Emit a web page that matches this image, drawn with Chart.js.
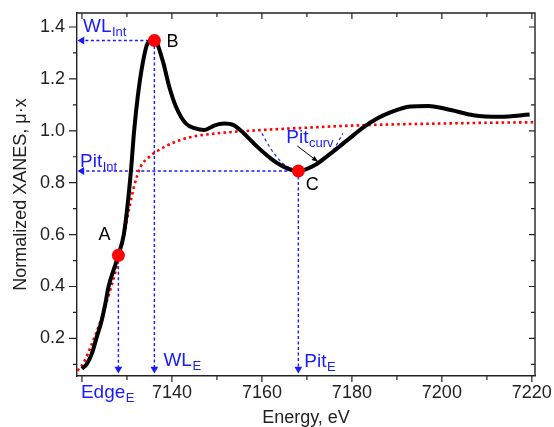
<!DOCTYPE html>
<html>
<head>
<meta charset="utf-8">
<script src="https://cdn.jsdelivr.net/npm/chart.js@4"></script>
<style>
html,body{margin:0;padding:0;background:#fff;}
#wrap{width:554px;height:427px;position:relative;}
</style>
</head>
<body>
<div id="wrap"><canvas id="c"></canvas></div>
<script>
// ---- data ----
const energy = [7120, 7121.1, 7122.2, 7123.3, 7124.4, 7125.2, 7125.9, 7127.0, 7128.1, 7129.3, 7130.1, 7130.9, 7131.6, 7132.4, 7133.5, 7134.6, 7136.1, 7137.9, 7139.4, 7140.9, 7143.1, 7145.2, 7147.2, 7149.4, 7151.6, 7153.7, 7156, 7159, 7162, 7164.9, 7168.1, 7171.6, 7175.3, 7179, 7182.7, 7185.7, 7188, 7193, 7197, 7202, 7207, 7213, 7219.5];
const xanes  = [0.083, 0.102, 0.141, 0.206, 0.27, 0.334, 0.398, 0.462, 0.52, 0.6, 0.707, 0.848, 1.0, 1.131, 1.26, 1.337, 1.35, 1.273, 1.17, 1.093, 1.028, 1.009, 1.003, 1.02, 1.028, 1.022, 0.99, 0.938, 0.893, 0.861, 0.845, 0.866, 0.913, 0.964, 1.015, 1.048, 1.067, 1.094, 1.096, 1.08, 1.06, 1.054, 1.063];

const stepEnergy = [7119, 7120.5, 7122, 7124, 7126, 7127.5, 7128.3, 7129.5, 7130.5, 7131.5, 7133, 7135, 7137, 7140, 7144, 7150, 7160, 7170, 7180, 7190, 7200, 7210, 7221];
const stepValues = [0.075, 0.11, 0.17, 0.26, 0.37, 0.46, 0.52, 0.61, 0.7, 0.78, 0.86, 0.9, 0.925, 0.952, 0.975, 0.99, 1.003, 1.012, 1.02, 1.025, 1.028, 1.031, 1.033];

const pitCurvEnergy = [7160, 7162, 7164, 7166, 7168.1, 7170, 7172, 7174, 7176, 7178];
const pitCurvValues = [0.99, 0.93, 0.885, 0.858, 0.845, 0.85, 0.865, 0.89, 0.93, 0.99];

const pointNames  = ['A', 'B', 'C'];
const pointEnergy = [7128.1, 7136.1, 7168.1];
const pointValues = [0.52, 1.348, 0.845];

const xTicks = [7120, 7140, 7160, 7180, 7200, 7220];
const xMinorTicks = [7130, 7150, 7170, 7190, 7210];
const yTicks = [0.2, 0.4, 0.6, 0.8, 1.0, 1.2, 1.4];
const yMinorTicks = [0.1, 0.3, 0.5, 0.7, 0.9, 1.1, 1.3];

const X_MIN = 7118.9, X_MAX = 7220.7, Y_MIN = 0.055, Y_MAX = 1.454;
const ARROW_END_X = 7120.0;
const ARROW_END_Y = 0.082;

// ---- build datasets ----
const pts = (xs, ys) => xs.map((x, i) => ({x, y: ys[i]}));
const BLUE = '#1a1aff';
const guide = (data, rot) => ({
  data, showLine: true, borderColor: BLUE, backgroundColor: BLUE,
  borderWidth: 1.4, borderDash: [3, 2.5], tension: 0,
  pointRadius: [0, 4.5], pointStyle: 'triangle', pointRotation: [0, rot],
  pointBorderWidth: 0, order: 3
});

const datasets = [
  {label: 'markers', data: pts(pointEnergy, pointValues), showLine: false,
   pointRadius: 6.5, backgroundColor: '#ff0000', borderColor: '#ff0000', pointBorderWidth: 0, order: 0},
  {label: 'xanes', data: pts(energy, xanes), showLine: true, borderColor: '#000', borderWidth: 4,
   cubicInterpolationMode: 'monotone', pointRadius: 0, order: 1},
  {label: 'step', data: pts(stepEnergy, stepValues), showLine: true, borderColor: '#ff0000', borderWidth: 2.6,
   borderDash: [2.6, 3.2], cubicInterpolationMode: 'monotone', pointRadius: 0, order: 2},
  {label: 'pitcurv', data: pts(pitCurvEnergy, pitCurvValues), showLine: true, borderColor: BLUE, borderWidth: 1.2,
   borderDash: [3, 3], cubicInterpolationMode: 'monotone', pointRadius: 0, order: 3},
  guide([{x: pointEnergy[1], y: pointValues[1]}, {x: ARROW_END_X, y: pointValues[1]}], 270),
  guide([{x: pointEnergy[2], y: pointValues[2]}, {x: ARROW_END_X, y: pointValues[2]}], 270),
  guide([{x: pointEnergy[0], y: pointValues[0]}, {x: pointEnergy[0], y: ARROW_END_Y}], 180),
  guide([{x: pointEnergy[1], y: pointValues[1]}, {x: pointEnergy[1], y: ARROW_END_Y}], 180),
  guide([{x: pointEnergy[2], y: pointValues[2]}, {x: pointEnergy[2], y: ARROW_END_Y}], 180),
];

const FONT = '"Liberation Sans", Arial, sans-serif';

function subText(ctx, main, sub, x, y, size, color) {
  ctx.save();
  ctx.fillStyle = color;
  ctx.textAlign = 'left';
  ctx.textBaseline = 'alphabetic';
  ctx.font = size + 'px ' + FONT;
  ctx.fillText(main, x, y);
  const w = ctx.measureText(main).width;
  ctx.font = Math.round(size * 0.66) + 'px ' + FONT;
  ctx.fillText(sub, x + w + 0.5, y + 4);
  ctx.restore();
}

const decor = {
  id: 'decor',
  afterDatasetsDraw(chart) {
    const {ctx, chartArea: a, scales: {x, y}} = chart;
    ctx.save();
    ctx.strokeStyle = '#222';
    ctx.lineWidth = 1.4;
    ctx.beginPath();
    ctx.moveTo(a.left, a.top); ctx.lineTo(a.right, a.top); ctx.lineTo(a.right, a.bottom);
    ctx.stroke();
    ctx.lineWidth = 1.2;
    ctx.beginPath();
    const xt = (v, len) => { const p = x.getPixelForValue(v);
      ctx.moveTo(p, a.bottom); ctx.lineTo(p, a.bottom + len);
      ctx.moveTo(p, a.top); ctx.lineTo(p, a.top + len); };
    const yt = (v, lenOut, lenIn) => { const p = y.getPixelForValue(v);
      ctx.moveTo(a.left, p); ctx.lineTo(a.left - lenOut, p);
      ctx.moveTo(a.right, p); ctx.lineTo(a.right - lenIn, p); };
    xTicks.forEach(v => xt(v, 6));
    xMinorTicks.forEach(v => xt(v, 4));
    yTicks.forEach(v => yt(v, 8, 6));
    yMinorTicks.forEach(v => yt(v, 4, 4));
    ctx.stroke();

    ctx.fillStyle = '#000';
    ctx.font = '18px ' + FONT;
    ctx.textAlign = 'center';
    ctx.textBaseline = 'alphabetic';
    const px = i => x.getPixelForValue(pointEnergy[i]);
    const py = i => y.getPixelForValue(pointValues[i]);
    ctx.fillText(pointNames[0], px(0) - 14, py(0) - 15);
    ctx.fillText(pointNames[1], px(1) + 18, py(1) + 6);
    ctx.fillText(pointNames[2], px(2) + 14, py(2) + 19);

    subText(ctx, 'WL', 'Int', a.left + 6, 32, 19, BLUE);
    subText(ctx, 'Pit', 'Int', a.left + 3, 167, 19, BLUE);
    subText(ctx, 'WL', 'E', px(1) + 9, 366, 19, BLUE);
    subText(ctx, 'Pit', 'E', px(2) + 6, 367, 19, BLUE);
    subText(ctx, 'Edge', 'E', x.getPixelForValue(7120) - 1, 398, 19, BLUE);
    subText(ctx, 'Pit', 'curv', px(2) - 12, 143, 19, BLUE);

    const x0 = px(2) - 1, y0 = 146, x1 = px(2) + 20, y1 = 162;
    ctx.strokeStyle = '#000';
    ctx.lineWidth = 1;
    ctx.beginPath(); ctx.moveTo(x0, y0); ctx.lineTo(x1, y1); ctx.stroke();
    const ang = Math.atan2(y1 - y0, x1 - x0);
    ctx.fillStyle = '#000';
    ctx.beginPath();
    ctx.moveTo(x1, y1);
    ctx.lineTo(x1 - 7 * Math.cos(ang - 0.35), y1 - 7 * Math.sin(ang - 0.35));
    ctx.lineTo(x1 - 7 * Math.cos(ang + 0.35), y1 - 7 * Math.sin(ang + 0.35));
    ctx.closePath(); ctx.fill();
    ctx.restore();
  }
};

const zeroPad = s => { s.paddingLeft = 0; s.paddingRight = 0; s.paddingTop = 0; s.paddingBottom = 0; };

new Chart(document.getElementById('c'), {
  type: 'scatter',
  data: {datasets},
  options: {
    responsive: true, maintainAspectRatio: false, animation: false,
    layout: {padding: {left: 0, right: 19, top: 13, bottom: 0}},
    plugins: {legend: {display: false}, tooltip: {enabled: false}},
    scales: {
      x: {
        type: 'linear', min: X_MIN, max: X_MAX,
        afterFit: s => { s.height = 51; zeroPad(s); },
        afterBuildTicks: s => { s.ticks = xTicks.map(v => ({value: v})); },
        grid: {display: false, drawTicks: false},
        border: {display: true, color: '#222', width: 1.4},
        ticks: {padding: 6, color: '#222', font: {family: FONT, size: 18},
                callback: v => (v === 7120 ? '' : String(v)), maxRotation: 0, autoSkip: false},
        title: {display: true, text: 'Energy, eV', color: '#222', font: {family: FONT, size: 18, lineHeight: 1.0},
                padding: {top: 0, bottom: 0}}
      },
      y: {
        type: 'linear', min: Y_MIN, max: Y_MAX,
        afterFit: s => { s.width = 77; zeroPad(s); },
        afterBuildTicks: s => { s.ticks = yTicks.map(v => ({value: v})); },
        grid: {display: false, drawTicks: false},
        border: {display: true, color: '#222', width: 1.4},
        ticks: {padding: 12, color: '#222', font: {family: FONT, size: 18},
                callback: v => v.toFixed(1), autoSkip: false},
        title: {display: true, text: 'Normalized XANES, μ·x', color: '#222', font: {family: FONT, size: 18},
                padding: {top: 10, bottom: 0}}
      }
    }
  },
  plugins: [decor]
});
</script>
</body>
</html>
